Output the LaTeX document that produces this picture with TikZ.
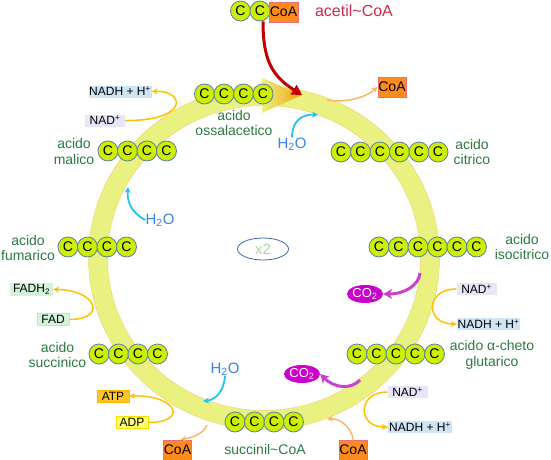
\documentclass[tikz,border=0pt]{standalone}
\usepackage{fontspec}
\setmainfont{Liberation Sans}
\usetikzlibrary{arrows.meta,shapes.geometric,calc}
\definecolor{ringfill}{HTML}{E9F180}
\definecolor{ringedge}{HTML}{F4D27A}
\definecolor{cfill}{HTML}{CCF000}
\definecolor{cedge}{HTML}{5E7F9E}
\definecolor{lblgreen}{HTML}{2A7A40}
\definecolor{crimson}{HTML}{D02A4E}
\definecolor{coafill}{HTML}{FF8C1A}
\definecolor{coaedge}{HTML}{E8707A}
\definecolor{nadhfill}{HTML}{CDE5F5}
\definecolor{nadfill}{HTML}{E6E6F8}
\definecolor{fadfill}{HTML}{D2F5DA}
\definecolor{fadedge}{HTML}{B8ECC2}
\definecolor{atpfill}{HTML}{FFC62A}
\definecolor{atpedge}{HTML}{FFB400}
\definecolor{adpfill}{HTML}{FFFF70}
\definecolor{adpedge}{HTML}{F5E100}
\definecolor{yarrow}{HTML}{FFC000}
\definecolor{oarrow}{HTML}{F7B866}
\definecolor{carrow}{HTML}{22C2F2}
\definecolor{htwoo}{HTML}{3580F5}
\definecolor{cotwo}{HTML}{CC00CC}
\definecolor{marrow}{HTML}{CC40CC}
\definecolor{redarrow}{HTML}{C00000}
\definecolor{xtwo}{HTML}{A8D8A0}
\definecolor{xedge}{HTML}{3A68B0}
\definecolor{tiporange}{HTML}{F5A010}
\begin{document}
\begin{tikzpicture}[x=1pt,y=-1pt,
  cc/.style={circle,fill=cfill,draw=cedge,line width=0.8pt,minimum size=20pt,inner sep=0pt,font=\fontsize{14}{14}\selectfont},
  lbl/.style={text=lblgreen,align=center,font=\fontsize{14}{15.5}\selectfont,inner sep=0pt},
  sbox/.style={rectangle,inner sep=0pt,minimum height=12pt,font=\fontsize{12}{12}\selectfont},
  coabox/.style={rectangle,fill=coafill,draw=coaedge,line width=0.8pt,minimum width=28pt,minimum height=20pt,inner sep=0pt,font=\fontsize{14}{14}\selectfont},
  htext/.style={text=htwoo,inner sep=0pt,font=\fontsize{15}{15}\selectfont},
  cobubble/.style={ellipse,fill=cotwo,text=white,minimum width=36pt,minimum height=18pt,inner sep=0pt,font=\fontsize{13}{13}\selectfont},
  ya/.style={draw=yarrow,line width=1.5pt,-{Stealth[length=6pt,width=6pt]}},
  oa/.style={draw=oarrow,line width=1.5pt,-{Stealth[length=6pt,width=6pt]}},
  ca/.style={draw=carrow,line width=1.8pt,-{Stealth[length=6pt,width=6pt]}},
  ma/.style={draw=marrow,line width=3pt,-{Stealth[length=9pt,width=10pt]}},
  ra/.style={draw=redarrow,line width=3pt,-{Triangle[length=10pt,width=11pt]}}
]
\useasboundingbox (0,0) rectangle (551,460);
% ring
\coordinate (ctr) at (264,258);
\path[fill=ringfill,draw=ringedge,line width=0.5pt]
  ($(ctr)+(-85:175.5 and 171.5)$) arc[start angle=-85,end angle=269.3,x radius=175.5,y radius=171.5]
  -- ($(ctr)+(269.3:156.5 and 152.5)$) arc[start angle=269.3,end angle=-85,x radius=156.5,y radius=152.5] -- cycle;
\coordinate (tip) at (302,95);
\shade[left color=ringfill,right color=tiporange] (262,78) -- (tip) -- (262,113) -- cycle;
% ring coordinates
\coordinate (rCoAtop) at (327,100);
\coordinate (rH2Otop) at (318,115);
\coordinate (rCOa) at (420,273);
\coordinate (rCOb) at (360,380);
\coordinate (rCoAbr) at (327,419);
\coordinate (rH2Obot) at (203,401);
\coordinate (rCoAbl) at (207,425);
\coordinate (rH2Oleft) at (128,187);
% acetil CoA
\node[cc] (ac1) at (240.5,11) {C};
\node[cc] (ac2) at (260,11) {C};
\node[coabox,minimum width=29pt] (acoa) at (283.5,12) {CoA};
\node[text=crimson,inner sep=0pt,font=\fontsize{16}{16}\selectfont] (acl) at (354,11) {acetil\textasciitilde CoA};
% chains
\foreach \i/\x in {1/204.5,2/224,3/243.5,4/263} \node[cc] (oa\i) at (\x,94) {C};
\foreach \i/\x in {1/341,2/360.5,3/380,4/399.5,5/419,6/438} \node[cc] (ci\i) at (\x,152) {C};
\foreach \i/\x in {1/379,2/398.5,3/418,4/437.5,5/457,6/476.5} \node[cc] (ic\i) at (\x,247) {C};
\foreach \i/\x in {1/357,2/376.5,3/396,4/415,5/434.5} \node[cc] (kg\i) at (\x,354) {C};
\foreach \i/\x in {1/235,2/254.5,3/274,4/293.5} \node[cc] (sc\i) at (\x,422) {C};
\foreach \i/\x in {1/99,2/118.5,3/138,4/157.5} \node[cc] (su\i) at (\x,354) {C};
\foreach \i/\x in {1/68,2/87.5,3/107,4/126.5} \node[cc] (fu\i) at (\x,247) {C};
\foreach \i/\x in {1/108,2/127.5,3/147,4/166.5} \node[cc] (ma\i) at (\x,151) {C};
% labels
\node[lbl] (loa) at (234,123) {acido\\ossalacetico};
\node[lbl] (lci) at (472,152) {acido\\citrico};
\node[lbl] (lic) at (522,247) {acido\\isocitrico};
\node[lbl] (lkg) at (492,355) {acido α-cheto\\glutarico};
\node[lbl] (lsc) at (265,449) {succinil\textasciitilde CoA};
\node[lbl] (lsu) at (57.5,355) {acido\\succinico};
\node[lbl] (lfu) at (28,248) {acido\\fumarico};
\node[lbl] (lma) at (74,151.5) {acido\\malico};
% small boxes
\node[sbox,fill=nadhfill,minimum width=63pt] (nadhA) at (120,91.5) {NADH + H\textsuperscript{+}};
\node[sbox,fill=nadfill,minimum width=40pt] (nadA) at (105,120.5) {NAD\textsuperscript{+}};
\node[sbox,fill=nadfill,minimum width=40pt] (nadB) at (476.5,289) {NAD\textsuperscript{+}};
\node[sbox,fill=nadhfill,minimum width=63pt] (nadhB) at (488.5,324) {NADH + H\textsuperscript{+}};
\node[sbox,fill=nadfill,minimum width=40pt] (nadC) at (407.5,392) {NAD\textsuperscript{+}};
\node[sbox,fill=nadhfill,minimum width=64pt] (nadhC) at (420,427) {NADH + H\textsuperscript{+}};
\node[sbox,fill=fadfill,minimum width=43pt,minimum height=13pt] (fadh) at (31.5,289.5) {FADH\textsubscript{2}};
\node[sbox,fill=fadfill,draw=fadedge,line width=0.6pt,minimum width=32pt] (fad) at (53,319.5) {FAD};
\node[sbox,fill=atpfill,draw=atpedge,line width=0.6pt,minimum width=32pt] (atp) at (113,396) {ATP};
\node[sbox,fill=adpfill,draw=adpedge,line width=0.6pt,minimum width=32pt] (adp) at (132,422.5) {ADP};
\node[coabox] (coaT) at (392,87) {CoA};
\node[coabox] (coaL) at (177.5,450) {CoA};
\node[coabox] (coaR) at (353,450) {CoA};
% water, CO2, x2
\node[htext] (wT) at (292,144) {H\textsubscript{2}O};
\node[htext] (wL) at (160,220) {H\textsubscript{2}O};
\node[htext] (wB) at (225,369) {H\textsubscript{2}O};
\node[cobubble] (coA) at (365,294) {CO\textsubscript{2}};
\node[cobubble] (coB) at (302,374) {CO\textsubscript{2}};
\node[ellipse,draw=xedge,line width=0.8pt,minimum width=51pt,minimum height=22pt,inner sep=0pt,text=xtwo,font=\fontsize{15}{15}\selectfont] (x2) at (263,249) {x2};
% connectors
\draw[ra] ([xshift=3pt]ac2.south) .. controls (263,60) and (272,76) .. (tip);
\draw[oa] (rCoAtop) .. controls (345,103) and (365,98) .. (coaT.west);
\draw[ca] (wT.north) .. controls (292,120) and (303,114) .. (rH2Otop);
\draw[ya] (nadA.east) .. controls (190,121) and (185,90) .. (nadhA.east);
\draw[ya] (nadB.west) .. controls (425,289) and (425,324) .. (nadhB.west);
\draw[ya] (nadC.west) .. controls (357,392) and (357,427) .. (nadhC.west);
\draw[ya] (fad.east) .. controls (108,319.5) and (96,289.5) .. (fadh.east);
\draw[ya] (adp.east) .. controls (188,422.5) and (178,395) .. (atp.east);
\draw[ca] (wL.west) .. controls (130,212) and (127,200) .. (rH2Oleft);
\draw[ca] (wB.south) .. controls (224,392) and (215,400) .. (rH2Obot);
\draw[oa] (rCoAbl) .. controls (203,435) and (190,438) .. ([xshift=3pt]coaL.north);
\draw[oa] (coaR.north) .. controls (352,428) and (340,418) .. (rCoAbr);
\draw[ma] (rCOb) .. controls (352,389) and (335,389) .. (coB.east);
\draw[ma] (rCOa) .. controls (419,285) and (405,294) .. (coA.east);
\end{tikzpicture}
\end{document}
